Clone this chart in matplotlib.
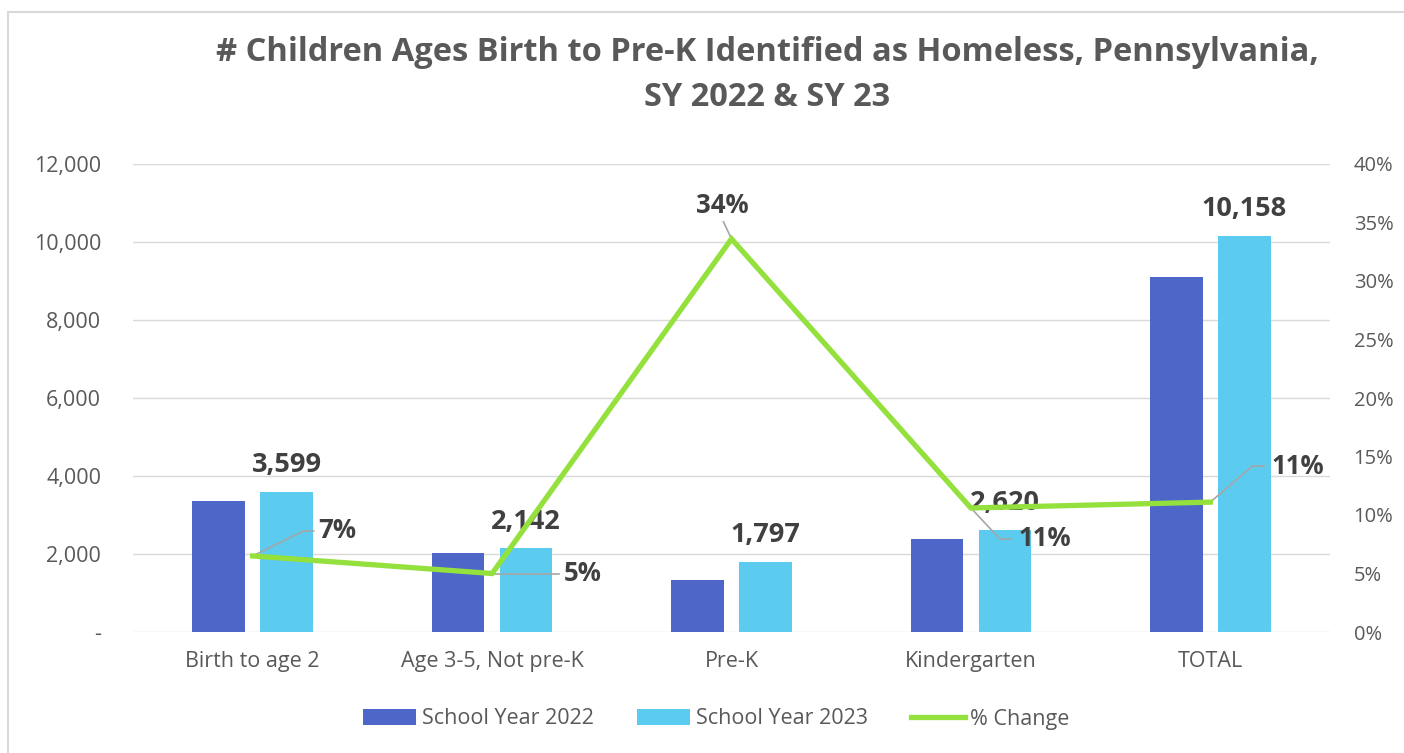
import matplotlib
matplotlib.use("Agg")
import matplotlib.pyplot as plt
import matplotlib.ticker as mticker
from matplotlib.patches import Rectangle, Patch
from matplotlib.lines import Line2D

categories = ["Birth to age 2", "Age 3-5, Not pre-K", "Pre-K", "Kindergarten", "TOTAL"]
sy2022 = [3367, 2018, 1335, 2390, 9110]
sy2023 = [3599, 2142, 1797, 2620, 10158]
pct_change = [6.5, 5.0, 33.6, 10.6, 11.1]
pct_labels = ["7%", "5%", "34%", "11%", "11%"]
left_ticks = [0, 2000, 4000, 6000, 8000, 10000, 12000]
right_ticks = [0, 5, 10, 15, 20, 25, 30, 35, 40]
legend_labels = ["School Year 2022", "School Year 2023", "% Change"]
title = "# Children Ages Birth to Pre-K Identified as Homeless, Pennsylvania,\nSY 2022 & SY 23"

plt.rcParams['font.family'] = ['Open Sans', 'DejaVu Sans']

C22 = "#4E66C7"
C23 = "#5BCBF0"
CL = "#94E03C"
GREY = "#595959"
DARK = "#404040"
LEAD = "#A6A6A6"

fig = plt.figure(figsize=(14.04, 7.53), dpi=100)
fig.patches.append(Rectangle((8/1404, -0.05), 1.1, 1.05 - 12/753, transform=fig.transFigure,
                             fill=False, edgecolor="#D9D9D9", linewidth=1.5))

ax = fig.add_axes([133/1404, 1 - 632/753, (1330 - 133)/1404, (632 - 164)/753])
x = list(range(len(categories)))
w = 0.22
off = 0.142
ax.bar([i - off for i in x], sy2022, width=w, color=C22, zorder=2)
ax.bar([i + off for i in x], sy2023, width=w, color=C23, zorder=2)
ax.set_xlim(-0.5, len(categories) - 0.5)
ax.set_ylim(0, 12000)
ax.set_yticks(left_ticks)
ax.yaxis.set_major_formatter(mticker.FuncFormatter(lambda v, p: "-" if v == 0 else f"{int(v):,}"))
ax.grid(axis="y", color="#D9D9D9", linewidth=1, zorder=0)
for s in ax.spines.values():
    s.set_visible(False)
ax.tick_params(axis="both", length=0, colors=GREY, labelsize=15.5)
ax.tick_params(axis="y", pad=23)
ax.tick_params(axis="x", pad=14)
ax.set_xticks(x)
ax.set_xticklabels(categories)

for i, v in enumerate(sy2023):
    ax.annotate(f"{v:,}", (i + off, v), xytext=(0, 10), textcoords="offset points",
                ha="center", va="bottom", fontsize=19.5, fontweight="bold", color=DARK)

ax2 = ax.twinx()
ax2.set_ylim(0, 40)
ax2.set_yticks(right_ticks)
ax2.yaxis.set_major_formatter(mticker.FuncFormatter(lambda v, p: f"{int(v)}%"))
for s in ax2.spines.values():
    s.set_visible(False)
ax2.tick_params(axis="y", length=0, colors=GREY, labelsize=14.5, pad=17)
ax2.plot(x, pct_change, color=CL, linewidth=3.8, zorder=3, solid_joinstyle="miter")

# leader lines (pixel offsets from the point, y up) and label anchors
leaders = [
    [(51, 25), (61, 25)],
    [(67, 0)],
    [(-8, 17)],
    [(29, -31), (40, -31)],
    [(42, 36), (54, 36)],
]
label_pos = [(66, 25, "left"), (72, 0, "left"), (-9, 20, "center"), (48, -31, "left"), (61, 36, "left")]
fig.canvas.draw()
inv = ax2.transData.inverted()
for i, v in enumerate(pct_change):
    px, py = ax2.transData.transform((i, v))
    pts = [(0, 0)] + leaders[i]
    data_pts = [inv.transform((px + a, py + b)) for a, b in pts]
    ax2.plot([d[0] for d in data_pts], [d[1] for d in data_pts], color=LEAD, linewidth=1.2, zorder=2.5)
    lx, ly, ha = label_pos[i]
    va = "bottom" if i == 2 else "center"
    ax2.annotate(pct_labels[i], (i, v), xytext=(lx * 0.72, ly * 0.72), textcoords="offset points",
                 ha=ha, va=va, fontsize=18.5, fontweight="bold", color=DARK, zorder=4)

fig.text(767/1404, 1 - 75/753, title, ha="center", va="center", fontsize=23.5, fontweight="bold",
         color=GREY, linespacing=1.5)

handles = [Patch(facecolor=C22), Patch(facecolor=C23), Line2D([0], [0], color=CL, linewidth=3.8)]
fig.legend(handles, legend_labels, loc="center", bbox_to_anchor=(716/1404, 1 - 719/753), ncol=3,
           frameon=False, fontsize=15.5, labelcolor=GREY, handlelength=2.5, handleheight=0.7,
           handletextpad=0.25, columnspacing=2.0)

fig.savefig("out.png", dpi=100)
